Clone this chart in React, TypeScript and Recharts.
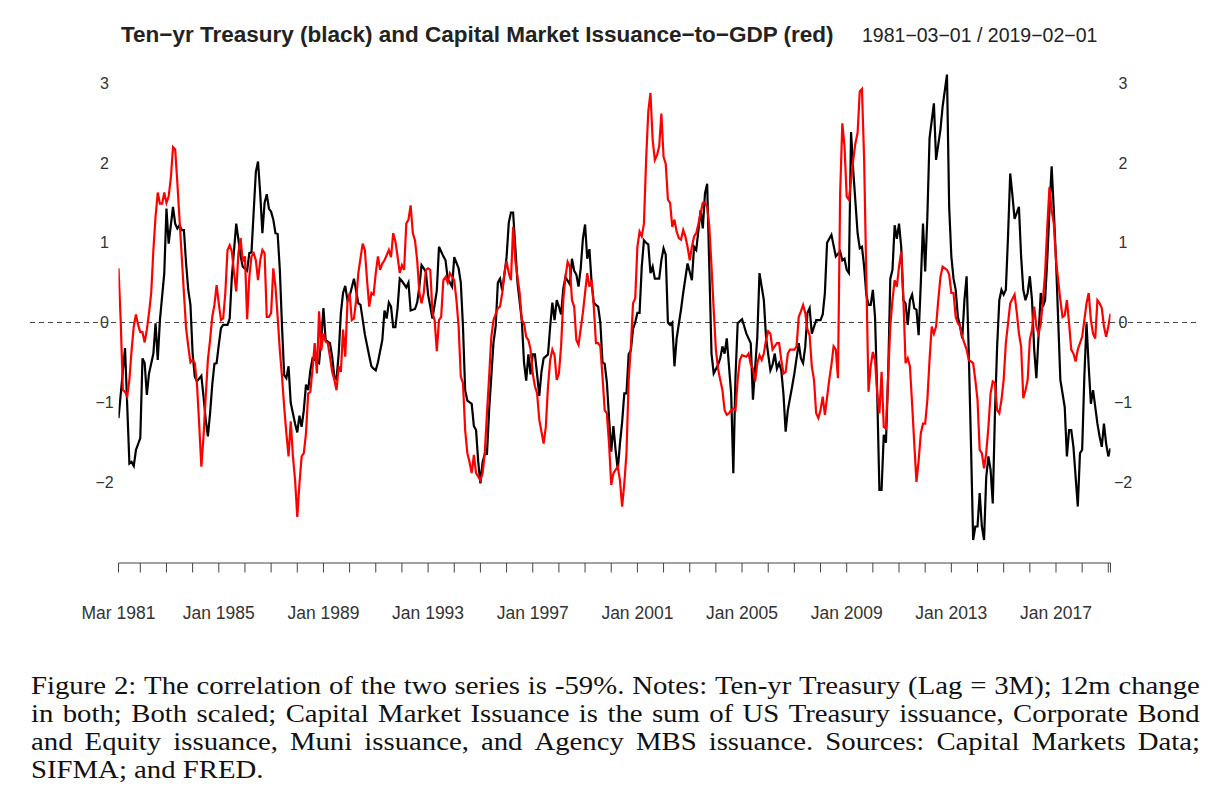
import React from "react";
import { LineChart, Line, XAxis, YAxis, ReferenceLine } from "recharts";

// x values are months after Mar 1981 (0 = 1981-03 ... 455 = 2019-02)
const blackMonths = [
  0, 3, 5, 6, 7, 8, 10, 11, 12, 13,
  14, 16, 17, 18, 19, 21, 22, 23, 24, 25,
  26, 27, 28, 29, 30, 31, 32, 33, 34, 35,
  36, 38, 39, 40, 41, 42, 43, 44, 45, 46,
  47, 48, 50, 51, 52, 54, 55, 56, 57, 59,
  60, 61, 62, 63, 64, 65, 66, 67, 68, 69,
  70, 71, 72, 73, 74, 75, 76, 77, 78, 79,
  81, 82, 83, 84, 85, 86, 87, 88, 89, 90,
  92, 93, 94, 95, 97, 98, 99, 100, 101, 102,
  103, 104, 105, 106, 108, 110, 111, 113, 115, 116,
  117, 118, 119, 121, 122, 123, 124, 125, 126, 127,
  128, 129, 130, 132, 133, 134, 136, 137, 138, 139,
  140, 141, 142, 143, 144, 146, 147, 149, 150, 151,
  153, 154, 156, 157, 158, 159, 160, 162, 163, 164,
  165, 166, 167, 168, 169, 170, 172, 173, 174, 175,
  176, 177, 178, 179, 180, 181, 182, 183, 185, 186,
  187, 188, 189, 190, 191, 192, 193, 194, 195, 197,
  198, 199, 200, 201, 202, 203, 204, 205, 207, 208,
  209, 210, 211, 212, 213, 214, 215, 216, 217, 218,
  219, 220, 221, 222, 223, 224, 225, 226, 227, 228,
  229, 230, 231, 232, 233, 234, 235, 236, 237, 238,
  239, 240, 241, 242, 243, 244, 245, 246, 248, 249,
  250, 251, 252, 253, 254, 255, 256, 258, 259, 261,
  263, 264, 265, 267, 268, 269, 270, 272, 273, 275,
  276, 277, 278, 279, 281, 282, 283, 284, 286, 288,
  290, 291, 293, 294, 296, 297, 298, 299, 300, 301,
  302, 303, 304, 305, 306, 307, 309, 310, 312, 313,
  314, 315, 316, 317, 318, 320, 322, 323, 324, 325,
  327, 329, 331, 332, 333, 334, 335, 336, 337, 339,
  340, 341, 342, 343, 344, 345, 346, 347, 348, 349,
  350, 351, 352, 353, 354, 355, 356, 357, 358, 359,
  360, 361, 362, 363, 364, 365, 366, 367, 368, 369,
  370, 371, 372, 374, 375, 377, 378, 380, 381, 382,
  383, 384, 385, 386, 387, 388, 389, 390, 391, 392,
  393, 394, 395, 396, 397, 398, 399, 400, 401, 402,
  403, 404, 405, 406, 407, 408, 409, 410, 411, 413,
  414, 415, 416, 417, 418, 419, 420, 421, 423, 424,
  425, 426, 427, 428, 429, 430, 431, 432, 434, 435,
  436, 437, 438, 440, 441, 442, 443, 444, 445, 446,
  447, 449, 450, 451, 452, 453, 454, 455,
];
const blackValues = [
  -1.2, -0.32, -1.77, -1.75, -1.8, -1.6, -1.45, -0.45, -0.51, -0.91,
  -0.64, -0.39, -0.01, -0.47, 0.03, 0.62, 1.43, 0.99, 1.22, 1.45,
  1.24, 1.18, 1.22, 1.16, 1.16, 0.74, 0.41, 0.22, -0.39, -0.68,
  -0.74, -0.67, -0.93, -1.22, -1.43, -1.14, -0.78, -0.52, -0.51, -0.28,
  -0.07, -0.03, -0.03, 0.05, 0.58, 1.24, 1.04, 0.83, 0.7, 0.65,
  0.87, 0.88, 1.39, 1.89, 2.02, 1.62, 1.12, 1.5, 1.61, 1.43,
  1.39, 1.29, 1.12, 1.11, 0.66, -0.05, -0.66, -0.7, -0.55, -1.01,
  -1.27, -1.38, -1.17, -1.31, -1.1, -0.78, -0.85, -0.6, -0.45, -0.47,
  -0.51, -0.2, 0.18, -0.22, -0.26, -0.43, -0.68, -0.71, -0.39, 0.12,
  0.37, 0.46, 0.28, 0.33, 0.55, 0.24, 0.22, -0.15, -0.42, -0.55,
  -0.58, -0.6, -0.5, -0.22, 0.15, 0.05, 0.25, 0.2, -0.06, -0.06,
  0.18, 0.55, 0.52, 0.44, 0.5, 0.15, 0.17, 0.25, 0.45, 0.72,
  0.68, 0.63, 0.35, 0.2, 0.05, 0.4, 0.95, 0.83, 0.78, 0.55,
  0.45, 0.82, 0.68, 0.5, -0.05, -0.85, -0.98, -1.02, -1.3, -1.35,
  -1.75, -2.02, -1.75, -1.65, -1.65, -1.1, -0.25, -0.05, 0.5, 0.55,
  0.4, 0.6, 0.82, 1.25, 1.38, 1.38, 0.95, 0.5, 0.02, -0.5,
  -0.73, -0.4, -0.65, -0.4, -0.4, -0.65, -0.92, -0.62, -0.45, -0.4,
  -0.05, 0.25, 0.03, 0.28, 0.2, 0.1, 0.42, 0.57, 0.48, 0.8,
  0.65, 0.6, 0.45, 0.68, 1.05, 1.23, 0.8, 0.92, 0.5, 0.25,
  0.22, 0.2, 0.0, -0.5, -0.52, -0.75, -1.2, -1.62, -1.3, -1.6,
  -1.85, -1.52, -1.25, -0.89, -0.89, -0.4, -0.35, -0.08, 0.0, 0.12,
  0.12, 0.7, 1.03, 1.0, 0.98, 0.62, 0.7, 0.55, 0.55, 0.78,
  0.93, 0.85, 0.0, -0.03, 0.0, -0.55, -0.2, 0.16, 0.37, 0.74,
  0.53, 0.95, 0.91, 1.41, 1.18, 1.62, 1.74, -0.39, -0.64, -0.53,
  -0.45, -0.3, -0.39, -0.2, -0.89, -1.89, -0.68, -0.01, 0.04, -0.14,
  -0.26, -0.97, -0.18, 0.62, 0.28, -0.18, -0.4, -0.6, -0.53, -0.39,
  -0.58, -0.51, -0.6, -0.9, -1.37, -1.1, -0.8, -0.64, -0.26, -0.45,
  -0.51, -0.3, 0.12, 0.18, -0.14, 0.03, 0.03, 0.1, 0.37, 1.0,
  1.1, 0.83, 0.89, 0.78, 0.8, 0.66, 0.62, 2.39, 1.91, 1.12,
  0.93, 0.95, 0.7, 0.35, 0.22, 0.22, 0.41, 0.07, -0.89, -2.1,
  -2.1, -1.41, -1.51, -0.68, 0.55, 0.66, 1.22, 1.05, 1.24, 0.95,
  0.28, 0.24, -0.03, 0.28, 0.35, 0.18, 0.16, -0.16, 0.5, 1.24,
  0.64, 1.33, 2.31, 2.75, 2.04, 2.42, 2.71, 3.11, 1.45, 0.83,
  0.55, 0.41, 0.07, -0.05, -0.2, 0.28, 0.58, -0.39, -1.52, -2.73,
  -2.56, -2.56, -2.14, -2.56, -2.73, -1.94, -1.68, -1.85, -2.27, -1.14,
  -0.3, 0.28, 0.41, 0.35, 0.41, 1.08, 1.87, 1.6, 1.3, 1.45,
  0.83, 0.41, 0.28, 0.37, 0.58, 0.28, -0.34, -0.7, 0.37, 0.2,
  0.28, 0.79, 1.41, 1.96, 1.41, 0.79, 0.03, -0.72, -1.06, -1.68,
  -1.35, -1.35, -1.56, -2.31, -1.64, -1.6, -0.68, -0.01, -0.55, -1.02,
  -0.85, -1.27, -1.43, -1.56, -1.27, -1.52, -1.68, -1.58,
];

const redMonths = [
  0, 1, 2, 3, 4, 5, 6, 7, 8, 9,
  10, 11, 12, 13, 14, 15, 16, 17, 18, 19,
  20, 21, 22, 23, 24, 25, 26, 27, 28, 29,
  30, 31, 32, 33, 34, 35, 36, 37, 38, 39,
  40, 41, 42, 43, 44, 45, 46, 47, 48, 49,
  50, 51, 52, 53, 54, 55, 56, 57, 58, 59,
  60, 61, 62, 63, 64, 65, 66, 67, 68, 69,
  70, 71, 72, 73, 74, 75, 76, 77, 78, 79,
  80, 81, 82, 83, 84, 85, 86, 87, 88, 89,
  90, 91, 92, 93, 94, 95, 96, 97, 98, 99,
  100, 101, 102, 103, 104, 105, 106, 107, 108, 109,
  110, 112, 113, 114, 115, 116, 117, 118, 119, 120,
  121, 122, 124, 125, 126, 127, 128, 129, 130, 131,
  132, 133, 134, 135, 136, 137, 138, 139, 140, 141,
  142, 143, 144, 145, 146, 147, 148, 149, 150, 151,
  152, 154, 155, 156, 157, 158, 159, 160, 161, 162,
  163, 164, 166, 167, 168, 169, 170, 171, 172, 174,
  175, 176, 177, 178, 179, 180, 181, 182, 184, 185,
  186, 187, 188, 189, 190, 191, 192, 193, 195, 196,
  197, 198, 199, 200, 201, 202, 203, 204, 205, 206,
  207, 208, 209, 210, 211, 213, 214, 215, 216, 217,
  218, 219, 220, 221, 222, 223, 224, 225, 226, 227,
  229, 230, 231, 232, 233, 234, 235, 236, 237, 238,
  239, 240, 241, 242, 243, 244, 245, 246, 247, 248,
  249, 250, 251, 252, 253, 254, 255, 256, 257, 258,
  259, 260, 261, 262, 263, 264, 265, 266, 267, 268,
  269, 270, 271, 272, 273, 274, 275, 276, 277, 278,
  279, 280, 281, 282, 283, 284, 285, 286, 288, 289,
  290, 291, 292, 293, 294, 295, 296, 297, 298, 299,
  300, 302, 303, 304, 305, 306, 307, 308, 310, 311,
  312, 313, 314, 315, 316, 317, 318, 319, 320, 321,
  322, 323, 324, 326, 327, 328, 329, 330, 331, 332,
  333, 334, 335, 336, 337, 338, 339, 340, 341, 342,
  343, 344, 345, 346, 347, 348, 349, 350, 351, 352,
  353, 354, 355, 356, 357, 358, 359, 360, 361, 362,
  363, 364, 365, 366, 367, 368, 369, 370, 371, 372,
  373, 374, 375, 376, 377, 378, 380, 381, 382, 383,
  384, 385, 386, 387, 389, 390, 392, 393, 394, 395,
  396, 397, 398, 399, 400, 401, 402, 403, 404, 405,
  406, 407, 408, 409, 411, 412, 413, 414, 415, 416,
  417, 418, 419, 420, 421, 422, 423, 424, 425, 426,
  427, 428, 429, 430, 432, 433, 434, 435, 436, 437,
  438, 439, 440, 442, 443, 444, 445, 446, 447, 448,
  449, 450, 451, 452, 453, 454, 455,
];
const redValues = [
  0.68, 0.03, -0.85, -0.87, -0.93, -0.72, -0.35, -0.05, 0.1, -0.03,
  -0.12, -0.12, -0.25, -0.09, 0.12, 0.37, 0.91, 1.33, 1.63, 1.49,
  1.49, 1.63, 1.5, 1.58, 1.81, 2.2, 2.17, 1.75, 1.29, 0.83,
  0.37, -0.07, -0.3, -0.5, -0.47, -0.51, -0.78, -1.27, -1.81, -1.43,
  -0.93, -0.47, -0.22, 0.07, 0.22, 0.47, 0.24, 0.03, 0.05, 0.37,
  0.91, 0.97, 0.89, 0.62, 0.39, 0.87, 1.06, 0.76, 0.83, 0.04,
  0.57, 0.83, 0.87, 0.78, 0.53, 0.78, 0.91, 0.87, 0.07, 0.07,
  0.12, 0.68, 0.45, 0.07, -0.35, -0.68, -1.06, -1.39, -1.68, -1.24,
  -1.68, -1.98, -2.44, -2.02, -1.68, -1.64, -1.39, -0.89, -0.87, -0.58,
  -0.26, -0.64, 0.14, -0.35, -0.14, -0.24, -0.26, -0.43, -0.62, -0.72,
  -0.85, -0.55, -0.62, -0.09, -0.43, 0.24, 0.37, 0.03, 0.05, 0.28,
  0.62, 0.99, 0.91, 0.53, 0.2, 0.37, 0.35, 0.62, 0.83, 0.66,
  0.74, 0.78, 0.91, 0.82, 1.12, 1.02, 0.83, 0.62, 0.72, 0.66,
  1.24, 1.29, 1.47, 1.12, 1.03, 0.78, 0.37, 0.24, 0.37, 0.66,
  0.68, 0.66, 0.12, 0.03, -0.36, 0.03, 0.07, 0.53, 0.57, 0.5,
  0.62, 0.53, 0.28, -0.05, -0.68, -0.76, -1.35, -1.64, -1.75, -1.89,
  -1.66, -1.89, -1.98, -1.89, -1.64, -1.14, -0.68, -0.18, 0.03, 0.18,
  0.2, 0.37, 0.62, 0.77, 0.62, 0.53, 1.2, 0.78, 0.37, 0.03,
  -0.01, -0.18, -0.22, -0.34, -0.64, -0.8, -0.89, -1.22, -1.52, -1.31,
  -0.8, -0.47, -0.34, -0.41, -0.72, -0.64, -0.3, 0.28, 0.57, 0.76,
  0.7, 0.28, 0.2, -0.22, -0.28, 0.12, 0.37, 0.62, 0.45, 0.53,
  0.2, -0.26, -0.26, -0.3, -0.68, -1.1, -1.14, -1.52, -2.04, -1.89,
  -1.81, -1.98, -2.31, -2.02, -1.64, -0.72, -0.3, 0.24, 0.3, 0.95,
  1.14, 1.08, 1.24, 2.04, 2.65, 2.88, 2.29, 2.04, 2.1, 2.21,
  2.62, 2.08, 1.99, 1.54, 1.5, 1.2, 1.29, 1.14, 1.06, 1.04,
  1.16, 1.08, 0.95, 0.78, 0.95, 1.08, 1.12, 1.24, 1.37, 1.5,
  1.5, 1.45, 1.2, 0.7, 0.16, -0.34, -0.58, -0.72, -0.85, -1.1,
  -1.16, -1.14, -1.1, -1.08, -1.1, -0.72, -0.47, -0.41, -0.43, -0.39,
  -0.53, -0.58, -0.74, -0.51, -0.41, -0.47, -0.39, -0.22, -0.11, -0.14,
  -0.34, -0.26, -0.26, -0.47, -0.64, -0.62, -0.39, -0.34, -0.34, -0.3,
  0.07, 0.14, 0.22, 0.12, -0.09, -0.16, -0.55, -0.72, -1.14, -1.2,
  -1.1, -0.93, -1.16, -0.72, -0.53, -0.3, -0.34, -0.7, 1.62, 2.5,
  2.21, 1.58, 1.54, 1.79, 2.04, 2.25, 2.38, 2.9, 2.93, 2.04,
  0.57, -0.87, -0.55, -0.37, -0.47, -0.89, -1.14, -0.62, -1.31, -1.33,
  -0.68, -0.05, 0.28, 0.53, 0.45, 0.7, 0.89, 0.3, -0.51, -0.45,
  -0.55, -1.02, -1.52, -2.0, -1.73, -1.39, -1.27, -1.27, -0.97, -0.47,
  -0.05, -0.14, -0.05, 0.28, 0.57, 0.7, 0.66, 0.6, 0.37, 0.37,
  0.07, -0.01, -0.05, -0.18, -0.34, -0.47, -0.51, -0.72, -0.97, -1.6,
  -1.64, -1.83, -1.64, -1.31, -0.89, -0.74, -0.76, -1.1, -1.14, -0.97,
  -0.72, -0.26, -0.01, 0.24, 0.35, 0.13, -0.14, -0.3, -0.95, -0.85,
  -0.72, -0.22, -0.09, 0.2, -0.05, -0.14, -0.02, 0.28, 0.62, 1.2,
  1.7, 1.41, 1.24, 0.78, 0.28, 0.07, 0.09, 0.28, -0.01, -0.34,
  -0.39, -0.49, -0.34, -0.18, 0.03, 0.24, 0.37, 0.03, -0.14, -0.2,
  0.28, 0.24, 0.18, -0.05, -0.18, -0.05, 0.11,
];

const yTicks = [-2, -1, 0, 1, 2, 3];
const tickLabelMonths = [0, 46, 94, 142, 190, 238, 286, 334, 382, 430];
const tickLabels = [
  "Mar 1981", "Jan 1985", "Jan 1989", "Jan 1993", "Jan 1997",
  "Jan 2001", "Jan 2005", "Jan 2009", "Jan 2013", "Jan 2017",
];

const captionLines = [
  "Figure 2: The correlation of the two series is -59%. Notes: Ten-yr Treasury (Lag = 3M); 12m change",
  "in both; Both scaled; Capital Market Issuance is the sum of US Treasury issuance, Corporate Bond",
  "and Equity issuance, Muni issuance, and Agency MBS issuance. Sources: Capital Markets Data;",
  "SIFMA; and FRED.",
];

// layout (page pixels)
const W = 1209;
const H = 645;
const LEFT = 118.5;
const RIGHT = 1110.5;
const TOP = 72;
const BOTTOM = 563;
const LAST_MONTH = 455;
const Y_DOMAIN: [number, number] = [-3.018, 3.143];
const CAPTION_W = 1169;
const CAPTION_STRETCH = 1.15;

const sans = "'Liberation Sans', Arial, Helvetica, sans-serif";
const serif = "'Liberation Serif', 'Times New Roman', serif";

const blackData = blackMonths.map((m, i) => ({ m, v: blackValues[i] }));
const redData = redMonths.map((m, i) => ({ m, v: redValues[i] }));

const xTicks: number[] = [0];
for (let m = 10; m <= LAST_MONTH; m += 12) xTicks.push(m);
xTicks.push(LAST_MONTH);

const fmt = (v: number) => (v < 0 ? "\u2212" + Math.abs(v) : String(v));
const pxToMonth = (px: number) => ((px - LEFT) / (RIGHT - LEFT)) * LAST_MONTH;

const renderXTick = (props: any) => {
  const i = tickLabelMonths.indexOf(props.payload.value);
  if (i < 0) return <g />;
  return (
    <text x={props.x} y={619} textAnchor="middle" fontFamily={sans} fontSize={17.5} fill="#333">
      {tickLabels[i]}
    </text>
  );
};

const yTick = (cx: number) => (props: any) => (
  <text x={cx} y={props.y + 5.7} textAnchor="middle" fontFamily={sans} fontSize={16} fill="#333">
    {fmt(props.payload.value)}
  </text>
);

function Caption() {
  return (
    <div
      style={{
        position: "absolute",
        left: 30.5,
        top: 671.5,
        width: CAPTION_W / CAPTION_STRETCH,
        transform: `scaleX(${CAPTION_STRETCH})`,
        transformOrigin: "0 0",
        fontFamily: serif,
        fontSize: 25,
        lineHeight: "28px",
        color: "#111",
      }}
    >
      {captionLines.map((line, i) =>
        i < captionLines.length - 1 ? (
          <div key={i} style={{ display: "flex", justifyContent: "space-between", height: 28 }}>
            {line.split(" ").map((w, j) => (
              <span key={j}>{w}</span>
            ))}
          </div>
        ) : (
          <div key={i} style={{ height: 28, whiteSpace: "pre" }}>
            {line}
          </div>
        )
      )}
    </div>
  );
}

export default function App() {
  return (
    <div style={{ position: "absolute", left: 0, top: 0, width: W, height: 808, background: "#fff" }}>
      <svg width={W} height={60} style={{ position: "absolute", left: 0, top: 0 }}>
        <text x={121} y={41.5} fontFamily={sans} fontWeight="bold" fontSize={22.5} fill="#222">
          {"Ten\u2212yr Treasury (black) and Capital Market Issuance\u2212to\u2212GDP (red)"}
        </text>
        <text x={862} y={41.5} fontFamily={sans} fontSize={19.5} fill="#222">
          {"1981\u221203\u221201 / 2019\u221202\u221201"}
        </text>
      </svg>
      <div style={{ position: "absolute", left: 0, top: 0 }}>
        <LineChart
          width={W}
          height={H}
          margin={{ top: TOP, right: W - RIGHT - 40, bottom: 0, left: LEFT - 60 }}
        >
          <XAxis
            type="number"
            dataKey="m"
            domain={[0, LAST_MONTH]}
            allowDataOverflow
            ticks={xTicks}
            interval={0}
            tick={renderXTick}
            tickSize={9.5}
            stroke="#444"
            height={H - BOTTOM}
          />
          <YAxis
            yAxisId="left"
            type="number"
            domain={Y_DOMAIN}
            allowDataOverflow
            ticks={yTicks}
            interval={0}
            axisLine={false}
            tickLine={false}
            tick={yTick(104.5)}
            width={60}
          />
          <YAxis
            yAxisId="right"
            orientation="right"
            type="number"
            domain={Y_DOMAIN}
            allowDataOverflow
            ticks={yTicks}
            interval={0}
            axisLine={false}
            tickLine={false}
            tick={yTick(1123)}
            width={40}
          />
          <ReferenceLine
            yAxisId="left"
            segment={[
              { x: pxToMonth(30), y: 0 },
              { x: pxToMonth(1197), y: 0 },
            ]}
            ifOverflow="visible"
            stroke="#444"
            strokeDasharray="5 4"
            strokeWidth={1}
          />
          <Line
            yAxisId="left"
            data={blackData}
            dataKey="v"
            type="linear"
            stroke="#000"
            strokeWidth={2.2}
            dot={false}
            isAnimationActive={false}
          />
          <Line
            yAxisId="right"
            data={redData}
            dataKey="v"
            type="linear"
            stroke="#ff0000"
            strokeWidth={2.2}
            dot={false}
            isAnimationActive={false}
          />
        </LineChart>
      </div>
      <Caption />
    </div>
  );
}
